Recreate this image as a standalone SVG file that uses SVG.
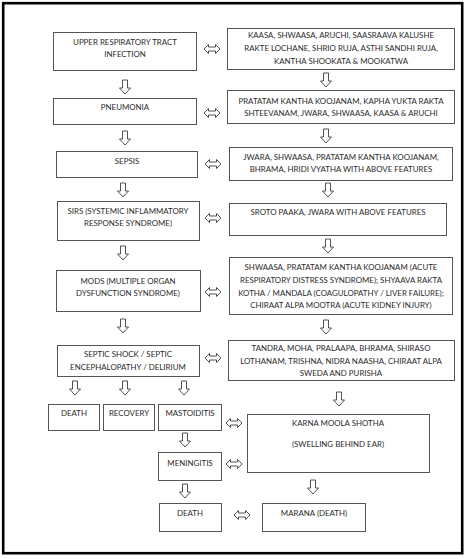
<svg xmlns="http://www.w3.org/2000/svg" xmlns:xlink="http://www.w3.org/1999/xlink" width="466" height="559" viewBox="0 0 466 559">
<style>
.box{fill:#fff;stroke:#555;stroke-width:1}
.t{font-family:Lato,"Open Sans","Liberation Sans",sans-serif;font-size:7.9px;fill:#2a2a2a;text-anchor:middle}
.arr{fill:#fff;stroke:#333;stroke-width:0.85;stroke-linejoin:miter}
</style>
<defs>
<path id="down" class="arr" d="M-2.5,0 H2.5 V8 H5.5 L0,14 L-5.5,8 H-2.5 Z"/>
<path id="lr" class="arr" d="M-8,0 L-3.5,-4.5 V-2 H3.5 V-4.5 L8,0 L3.5,4.5 V2 H-3.5 V4.5 Z"/>
</defs>
<rect x="0" y="0" width="466" height="559" fill="#fff"/>
<rect x="3.2" y="3.2" width="459" height="550" fill="none" stroke="#000" stroke-width="2.6"/>

<g id="n-urti"><rect class="box" x="53.5" y="32.5" width="143" height="38"/><text class="t" x="125" y="45">UPPER RESPIRATORY TRACT</text><text class="t" x="125" y="57">INFECTION</text></g>
<g id="n-r1"><rect class="box" x="227.5" y="28.5" width="227" height="41"/><text class="t" x="341" y="38">KAASA, SHWAASA, ARUCHI, SAASRAAVA KALUSHE</text><text class="t" x="341" y="51">RAKTE LOCHANE, SHRIO RUJA, ASTHI SANDHI RUJA,</text><text class="t" x="341" y="64">KANTHA SHOOKATA &amp; MOOKATWA</text></g>
<g id="n-pneu"><rect class="box" x="53.5" y="98.5" width="143" height="26"/><text class="t" x="125" y="110">PNEUMONIA</text></g>
<g id="n-r2"><rect class="box" x="227.5" y="90.5" width="227" height="33"/><text class="t" x="341" y="104">PRATATAM KANTHA KOOJANAM, KAPHA YUKTA RAKTA</text><text class="t" x="341" y="116">SHTEEVANAM, JWARA, SHWAASA, KAASA &amp; ARUCHI</text></g>
<g id="n-sepsis"><rect class="box" x="56.5" y="151.5" width="141" height="26"/><text class="t" x="127" y="164">SEPSIS</text></g>
<g id="n-r3"><rect class="box" x="229.5" y="147.5" width="223" height="33"/><text class="t" x="341" y="160">JWARA, SHWAASA, PRATATAM KANTHA KOOJANAM,</text><text class="t" x="341" y="172">BHRAMA, HRIDI VYATHA WITH ABOVE FEATURES</text></g>
<g id="n-sirs"><rect class="box" x="57.5" y="201.5" width="142" height="39"/><text class="t" x="128" y="214">SIRS (SYSTEMIC INFLAMMATORY</text><text class="t" x="128" y="226">RESPONSE SYNDROME)</text></g>
<g id="n-r4"><rect class="box" x="229.5" y="203.5" width="217" height="32"/><text class="t" x="338" y="215">SROTO PAAKA, JWARA WITH ABOVE FEATURES</text></g>
<g id="n-mods"><rect class="box" x="56.5" y="270.5" width="144" height="41"/><text class="t" x="128" y="284">MODS (MULTIPLE ORGAN</text><text class="t" x="128" y="296">DYSFUNCTION SYNDROME)</text></g>
<g id="n-r5"><rect class="box" x="229.5" y="257.5" width="223" height="57"/><text class="t" x="341" y="270">SHWAASA, PRATATAM KANTHA KOOJANAM (ACUTE</text><text class="t" x="341" y="283">RESPIRATORY DISTRESS SYNDROME); SHYAAVA RAKTA</text><text class="t" x="341" y="296">KOTHA / MANDALA (COAGULOPATHY / LIVER FAILURE);</text><text class="t" x="341" y="308">CHIRAAT ALPA MOOTRA (ACUTE KIDNEY INJURY)</text></g>
<g id="n-shock"><rect class="box" x="57.5" y="345.5" width="142" height="31"/><text class="t" x="128" y="356.5">SEPTIC SHOCK / SEPTIC</text><text class="t" x="128" y="369.5">ENCEPHALOPATHY / DELIRIUM</text></g>
<g id="n-r6"><rect class="box" x="228.5" y="340.5" width="226" height="40"/><text class="t" x="341" y="351">TANDRA, MOHA, PRALAAPA, BHRAMA, SHIRASO</text><text class="t" x="341" y="364">LOTHANAM, TRISHNA, NIDRA NAASHA, CHIRAAT ALPA</text><text class="t" x="341" y="376">SWEDA AND PURISHA</text></g>
<g id="n-death1"><rect class="box" x="48.5" y="404.5" width="51" height="26"/><text class="t" x="74" y="416">DEATH</text></g>
<g id="n-recovery"><rect class="box" x="103.5" y="404.5" width="51" height="26"/><text class="t" x="129" y="416">RECOVERY</text></g>
<g id="n-masto"><rect class="box" x="158.5" y="404.5" width="63" height="26"/><text class="t" x="190" y="416">MASTOIDITIS</text></g>
<g id="n-karna"><rect class="box" x="247.5" y="414.5" width="182" height="58"/><text class="t" x="338" y="426">KARNA MOOLA SHOTHA</text><text class="t" x="338" y="447">(SWELLING BEHIND EAR)</text></g>
<g id="n-mening"><rect class="box" x="158.5" y="452.5" width="63" height="28"/><text class="t" x="190" y="466">MENINGITIS</text></g>
<g id="n-death2"><rect class="box" x="159.5" y="503.5" width="62" height="28"/><text class="t" x="190" y="515.5">DEATH</text></g>
<g id="n-marana"><rect class="box" x="262.5" y="503.5" width="103" height="28"/><text class="t" x="314" y="516">MARANA (DEATH)</text></g>

<g id="connectors">
<use xlink:href="#down" x="125" y="80"/>
<use xlink:href="#down" x="125" y="131"/>
<use xlink:href="#down" x="123" y="183"/>
<use xlink:href="#down" x="123" y="246"/>
<use xlink:href="#down" x="123" y="319"/>
<use xlink:href="#down" x="75" y="381"/>
<use xlink:href="#down" x="125" y="381"/>
<use xlink:href="#down" x="184" y="381"/>
<use xlink:href="#down" x="185" y="433"/>
<use xlink:href="#down" x="185" y="484"/>
<use xlink:href="#down" x="326" y="73"/>
<use xlink:href="#down" x="326" y="129"/>
<use xlink:href="#down" x="328" y="183"/>
<use xlink:href="#down" x="328" y="239"/>
<use xlink:href="#down" x="326" y="320"/>
<use xlink:href="#down" x="339" y="392"/>
<use xlink:href="#down" x="313" y="480"/>
<use xlink:href="#lr" x="212" y="49"/>
<use xlink:href="#lr" x="212" y="113"/>
<use xlink:href="#lr" x="213" y="164"/>
<use xlink:href="#lr" x="213" y="218"/>
<use xlink:href="#lr" x="213" y="292"/>
<use xlink:href="#lr" x="213" y="358"/>
<use xlink:href="#lr" x="234" y="423"/>
<use xlink:href="#lr" x="234" y="464"/>
<use xlink:href="#lr" x="242" y="515"/>
</g>
</svg>
